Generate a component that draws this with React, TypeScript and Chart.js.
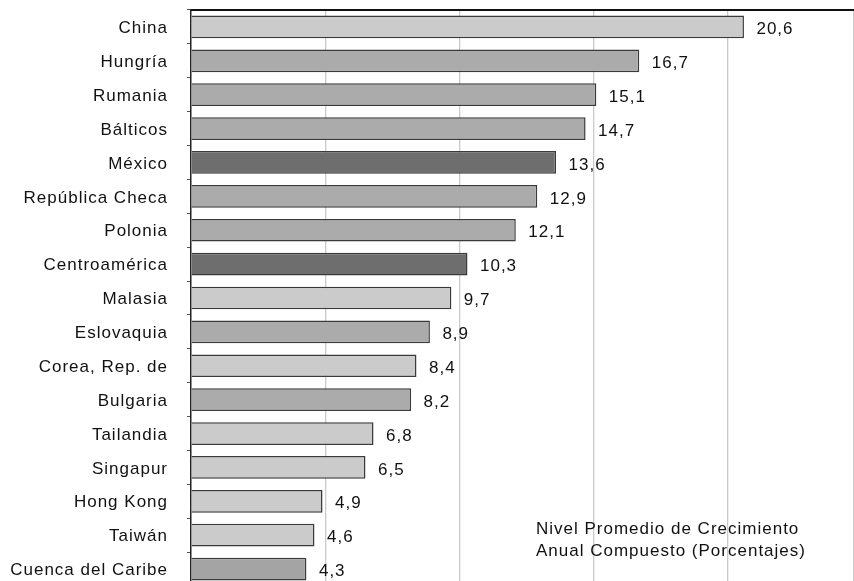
import React, { useEffect, useRef } from "react";
import { Chart, registerables } from "chart.js";

Chart.register(...registerables);

const categories = [
  "China",
  "Hungría",
  "Rumania",
  "Bálticos",
  "México",
  "República Checa",
  "Polonia",
  "Centroamérica",
  "Malasia",
  "Eslovaquia",
  "Corea, Rep. de",
  "Bulgaria",
  "Tailandia",
  "Singapur",
  "Hong Kong",
  "Taiwán",
  "Cuenca del Caribe",
];

const values = [20.6, 16.7, 15.1, 14.7, 13.6, 12.9, 12.1, 10.3, 9.7, 8.9, 8.4, 8.2, 6.8, 6.5, 4.9, 4.6, 4.3];

const regions = [
  "asia",
  "europa",
  "europa",
  "europa",
  "latam",
  "europa",
  "europa",
  "latam",
  "asia",
  "europa",
  "asia",
  "europa",
  "asia",
  "asia",
  "asia",
  "asia",
  "caribe",
];

const noteLines = ["Nivel Promedio de Crecimiento", "Anual Compuesto (Porcentajes)"];

const xMin = 0;
const xMax = 24.7;
const xStep = 5;

const palette: Record<string, string> = {
  asia: "#cbcbcb",
  europa: "#ababab",
  latam: "#6e6e6e",
  caribe: "#a4a4a4",
};

const FONT_FAMILY = '"Liberation Sans", Arial, Helvetica, sans-serif';
const FONT_SIZE = 17;
const SPACING = "1px";
const TEXT_COLOR = "#111111";

const formatValue = (v: number) => v.toFixed(1).replace(".", ",");

export default function App() {
  const canvasRef = useRef<HTMLCanvasElement | null>(null);

  useEffect(() => {
    if (!canvasRef.current) return;

    const spacingPlugin = {
      id: "spacing",
      beforeUpdate(c: any) {
        c.ctx.letterSpacing = SPACING;
      },
      beforeDraw(c: any) {
        c.ctx.letterSpacing = SPACING;
      },
    };

    const labelsPlugin = {
      id: "valueLabels",
      afterDatasetsDraw(c: any) {
        const ctx = c.ctx;
        const meta = c.getDatasetMeta(0);
        ctx.save();
        ctx.letterSpacing = SPACING;
        ctx.font = `${FONT_SIZE}px ${FONT_FAMILY}`;
        ctx.fillStyle = TEXT_COLOR;
        ctx.textAlign = "left";
        ctx.textBaseline = "middle";
        meta.data.forEach((el: any, i: number) => {
          ctx.fillText(formatValue(values[i]), el.x + 12.5, el.y + 2.5);
        });
        ctx.restore();
      },
      afterDraw(c: any) {
        const ctx = c.ctx;
        const area = c.chartArea;
        ctx.save();
        ctx.letterSpacing = SPACING;
        ctx.font = `${FONT_SIZE}px ${FONT_FAMILY}`;
        ctx.fillStyle = TEXT_COLOR;
        ctx.textAlign = "left";
        ctx.textBaseline = "middle";
        noteLines.forEach((line, i) => {
          ctx.fillText(line, area.left + 345, area.bottom - 57 + i * 22);
        });
        ctx.restore();
      },
    };

    const chart = new Chart(canvasRef.current, {
      type: "bar",
      data: {
        labels: categories,
        datasets: [
          {
            data: values,
            backgroundColor: regions.map((r) => palette[r]),
            borderColor: "#3a3a3a",
            borderWidth: 1.5,
            barPercentage: 0.67,
            categoryPercentage: 1,
          },
        ],
      },
      options: {
        indexAxis: "y",
        responsive: false,
        animation: false,
        layout: { padding: { top: 10, bottom: 14, left: 0, right: 0 } },
        plugins: {
          legend: { display: false },
          tooltip: { enabled: false },
        },
        scales: {
          x: {
            type: "linear",
            position: "top",
            min: xMin,
            max: xMax,
            ticks: { display: false, stepSize: xStep },
            grid: {
              color: (ctx: any) => (ctx.tick && ctx.tick.value === 0 ? "rgba(0,0,0,0)" : "#cacaca"),
              lineWidth: 1.3,
              drawTicks: false,
            },
            border: { display: true, color: "#111111", width: 2 },
            afterFit: (s: any) => {
              s.height = 0;
              s.paddingLeft = 0;
              s.paddingRight = 0;
            },
          },
          y: {
            type: "category",
            ticks: {
              color: TEXT_COLOR,
              font: { family: FONT_FAMILY, size: FONT_SIZE },
              padding: 19,
              labelOffset: 1.5,
              autoSkip: false,
            },
            grid: {
              drawOnChartArea: false,
              drawTicks: true,
              tickLength: 4,
              color: "#555555",
              offset: true,
            },
            border: { display: true, color: "#222222", width: 1.5 },
            afterFit: (s: any) => {
              s.width = 191;
              s.paddingTop = 0;
              s.paddingBottom = 0;
            },
          },
        },
      },
      plugins: [spacingPlugin, labelsPlugin],
    } as any);

    return () => chart.destroy();
  }, []);

  return (
    <div
      style={{
        position: "fixed",
        left: 0,
        top: 0,
        width: 854,
        height: 581,
        overflow: "hidden",
        background: "#ffffff",
      }}
    >
      <canvas ref={canvasRef} width={854} height={600} style={{ display: "block" }} />
    </div>
  );
}
